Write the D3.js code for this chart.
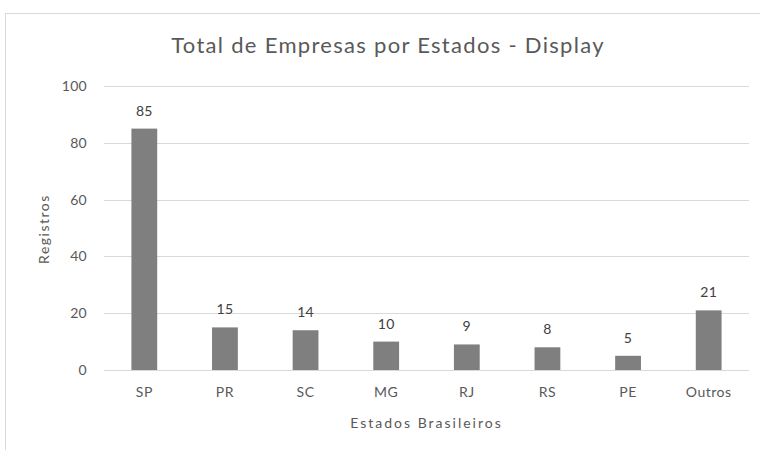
<!DOCTYPE html>
<html>
<head>
<meta charset="utf-8">
<script src="https://cdn.jsdelivr.net/npm/d3@7"></script>
<style>
  body { margin: 0; background: #fff; }
  text { font-family: Lato, "Open Sans", sans-serif; }
</style>
</head>
<body>
<script>
var width = 760, height = 450;

// Data
var estados = ["SP", "PR", "SC", "MG", "RJ", "RS", "PE", "Outros"];
var registros = [85, 15, 14, 10, 9, 8, 5, 21];
var yTicks = [0, 20, 40, 60, 80, 100];

var plot = {left: 104, right: 749, top: 86, bottom: 370};

var svg = d3.select("body")
    .append("svg")
    .attr("width", width)
    .attr("height", height);

// chart frame
svg.append("rect")
    .attr("x", 5.5)
    .attr("y", 13.5)
    .attr("width", 800)
    .attr("height", 500)
    .attr("fill", "#fff")
    .attr("stroke", "#d9d9d9");

var x = d3.scaleBand()
    .domain(estados)
    .range([plot.left, plot.right])
    .paddingInner(0.68)
    .paddingOuter(0.34);

var y = d3.scaleLinear()
    .domain([0, 100])
    .range([plot.bottom, plot.top]);

// Gridlines
svg.append("g")
    .selectAll("line")
    .data(yTicks)
    .enter().append("line")
    .attr("x1", plot.left)
    .attr("x2", plot.right)
    .attr("y1", function(d) { return Math.round(y(d)) + 0.5; })
    .attr("y2", function(d) { return Math.round(y(d)) + 0.5; })
    .attr("stroke", "#d9d9d9")
    .attr("stroke-width", 1);

// Y tick labels
var yAxis = svg.append("g")
    .attr("transform", "translate(" + (plot.left - 17) + ",0)")
    .call(d3.axisLeft(y).tickValues(yTicks).tickSize(0).tickPadding(0));
yAxis.select(".domain").remove();
yAxis.selectAll("text")
    .attr("fill", "#595959")
    .style("font-size", "14px")
    .style("letter-spacing", "0.3px")
    .style("font-family", "Lato, sans-serif");

// Bars
svg.append("g")
    .selectAll("rect")
    .data(registros)
    .enter().append("rect")
    .attr("x", function(d, i) { return x(estados[i]); })
    .attr("y", function(d) { return y(d); })
    .attr("width", x.bandwidth())
    .attr("height", function(d) { return y(0) - y(d); })
    .attr("fill", "#7f7f7f");

// Data labels
svg.append("g")
    .selectAll("text")
    .data(registros)
    .enter().append("text")
    .attr("x", function(d, i) { return x(estados[i]) + x.bandwidth() / 2; })
    .attr("y", function(d) { return y(d) - 13; })
    .attr("text-anchor", "middle")
    .attr("fill", "#404040")
    .style("font-size", "14px")
    .style("letter-spacing", "0.3px")
    .text(function(d) { return d; });

// X tick labels
var xAxis = svg.append("g")
    .attr("transform", "translate(0," + (plot.bottom + 17) + ")")
    .call(d3.axisBottom(x).tickSize(0).tickPadding(0));
xAxis.select(".domain").remove();
xAxis.selectAll("text")
    .attr("fill", "#595959")
    .style("font-size", "14px")
    .style("letter-spacing", "0.5px")
    .style("font-family", "Lato, sans-serif");

// Axis titles
svg.append("text")
    .attr("x", (plot.left + plot.right) / 2)
    .attr("y", 428)
    .attr("text-anchor", "middle")
    .attr("fill", "#595959")
    .style("font-size", "14px")
    .style("letter-spacing", "2px")
    .text("Estados Brasileiros");

svg.append("text")
    .attr("transform", "translate(49," + ((plot.top + plot.bottom) / 2 + 1) + ") rotate(-90)")
    .attr("text-anchor", "middle")
    .attr("fill", "#595959")
    .style("font-size", "14px")
    .style("letter-spacing", "1.5px")
    .text("Registros");

// Title
svg.append("text")
    .attr("x", 388)
    .attr("y", 53)
    .attr("text-anchor", "middle")
    .attr("fill", "#595959")
    .style("font-size", "22px")
    .style("letter-spacing", "1.3px")
    .text("Total de Empresas por Estados - Display");
</script>
</body>
</html>
